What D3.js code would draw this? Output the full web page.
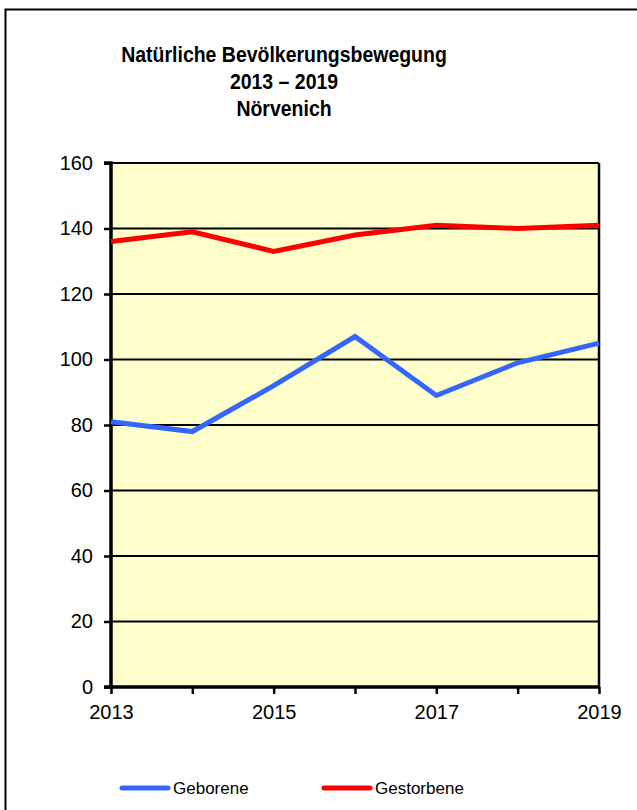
<!DOCTYPE html>
<html>
<head>
<meta charset="utf-8">
<script src="https://cdn.jsdelivr.net/npm/d3@7"></script>
<style>
  body { margin: 0; background: #fff; }
  svg { display: block; font-family: "Liberation Sans", Arial, sans-serif; }
</style>
</head>
<body>
<div id="chart"></div>
<script>
// data
var years = [2013, 2014, 2015, 2016, 2017, 2018, 2019];
var geborene = [81, 78, 92, 107, 89, 99, 105];
var gestorbene = [136, 139, 133, 138, 141, 140, 141];
var yTicks = [0, 20, 40, 60, 80, 100, 120, 140, 160];
var xLabels = [2013, 2015, 2017, 2019];
var titleLines = ['Natürliche Bevölkerungsbewegung', '2013 – 2019', 'Nörvenich'];

var W = 637, H = 810;
var margin = { left: 111, right: 38, top: 163, bottom: 123 };
var width = W - margin.left - margin.right;
var height = H - margin.top - margin.bottom;

var svg = d3.select('#chart').append('svg')
    .attr('width', W)
    .attr('height', H);

// outer frame
svg.append('rect')
    .attr('x', 5.5).attr('y', 9.5)
    .attr('width', W).attr('height', H)
    .attr('fill', 'none')
    .attr('stroke', '#000')
    .attr('stroke-width', 2);

// title (font is a bit narrower in the original)
svg.append('g')
    .attr('transform', 'translate(284,0) scale(0.885,1)')
    .selectAll('text')
    .data(titleLines)
    .enter()
    .append('text')
    .attr('x', 0)
    .attr('y', (d, i) => 62 + i * 27)
    .attr('text-anchor', 'middle')
    .attr('font-weight', 'bold')
    .attr('font-size', '22px')
    .text(d => d);

var g = svg.append('g')
    .attr('transform', 'translate(' + margin.left + ',' + margin.top + ')');

var x = d3.scaleLinear().domain([2013, 2019]).range([0, width]);
var y = d3.scaleLinear().domain([0, 160]).range([height, 0]);

g.append('rect')
    .attr('width', width)
    .attr('height', height)
    .attr('fill', '#FFFFCC');

// gridlines
g.append('g').selectAll('line')
    .data(yTicks.filter(d => d > 0))
    .enter()
    .append('line')
    .attr('x1', 0).attr('x2', width)
    .attr('y1', d => y(d)).attr('y2', d => y(d))
    .attr('stroke', '#000')
    .attr('stroke-width', 2);

// plot border right
g.append('line')
    .attr('x1', width).attr('x2', width)
    .attr('y1', 0).attr('y2', height)
    .attr('stroke', '#000').attr('stroke-width', 2.5);

// axes
var yAxis = g.append('g')
    .call(d3.axisLeft(y).tickValues(yTicks).tickSize(7).tickPadding(11));
var xAxis = g.append('g')
    .attr('transform', 'translate(0,' + height + ')')
    .call(d3.axisBottom(x).tickValues(years).tickSize(7).tickPadding(11)
        .tickFormat(d => xLabels.indexOf(d) >= 0 ? d : ''));

[yAxis, xAxis].forEach(a => {
    a.select('.domain').attr('stroke-width', 3.5).attr('stroke', '#000');
    a.selectAll('.tick line').attr('stroke-width', 2.5).attr('stroke', '#000');
    a.selectAll('.tick text')
        .attr('font-size', '20px')
        .attr('font-family', '"Liberation Sans", Arial, sans-serif')
        .attr('fill', '#000');
});
yAxis.select('.domain').attr('d', 'M-7,0H0V' + height + 'H-7');
xAxis.select('.domain').attr('d', 'M0,0H' + width);

var line = d3.line()
    .x((d, i) => x(years[i]))
    .y(d => y(d));

var series = [
    { name: 'Geborene', values: geborene, color: '#3366FF' },
    { name: 'Gestorbene', values: gestorbene, color: '#FF0000' }
];

g.selectAll('.series')
    .data(series)
    .enter()
    .append('path')
    .attr('class', 'series')
    .attr('d', d => line(d.values))
    .attr('fill', 'none')
    .attr('stroke', d => d.color)
    .attr('stroke-width', 5)
    .attr('stroke-linejoin', 'miter');

// legend
var legend = svg.append('g').selectAll('g')
    .data(series)
    .enter()
    .append('g')
    .attr('transform', (d, i) => 'translate(' + (122 + i * 202) + ',788)');

legend.append('line')
    .attr('x1', 0).attr('x2', 46)
    .attr('stroke', d => d.color)
    .attr('stroke-width', 5)
    .attr('stroke-linecap', 'round');

legend.append('text')
    .attr('x', 51)
    .attr('dy', '0.35em')
    .attr('font-size', '17px')
    .text(d => d.name);
</script>
</body>
</html>
